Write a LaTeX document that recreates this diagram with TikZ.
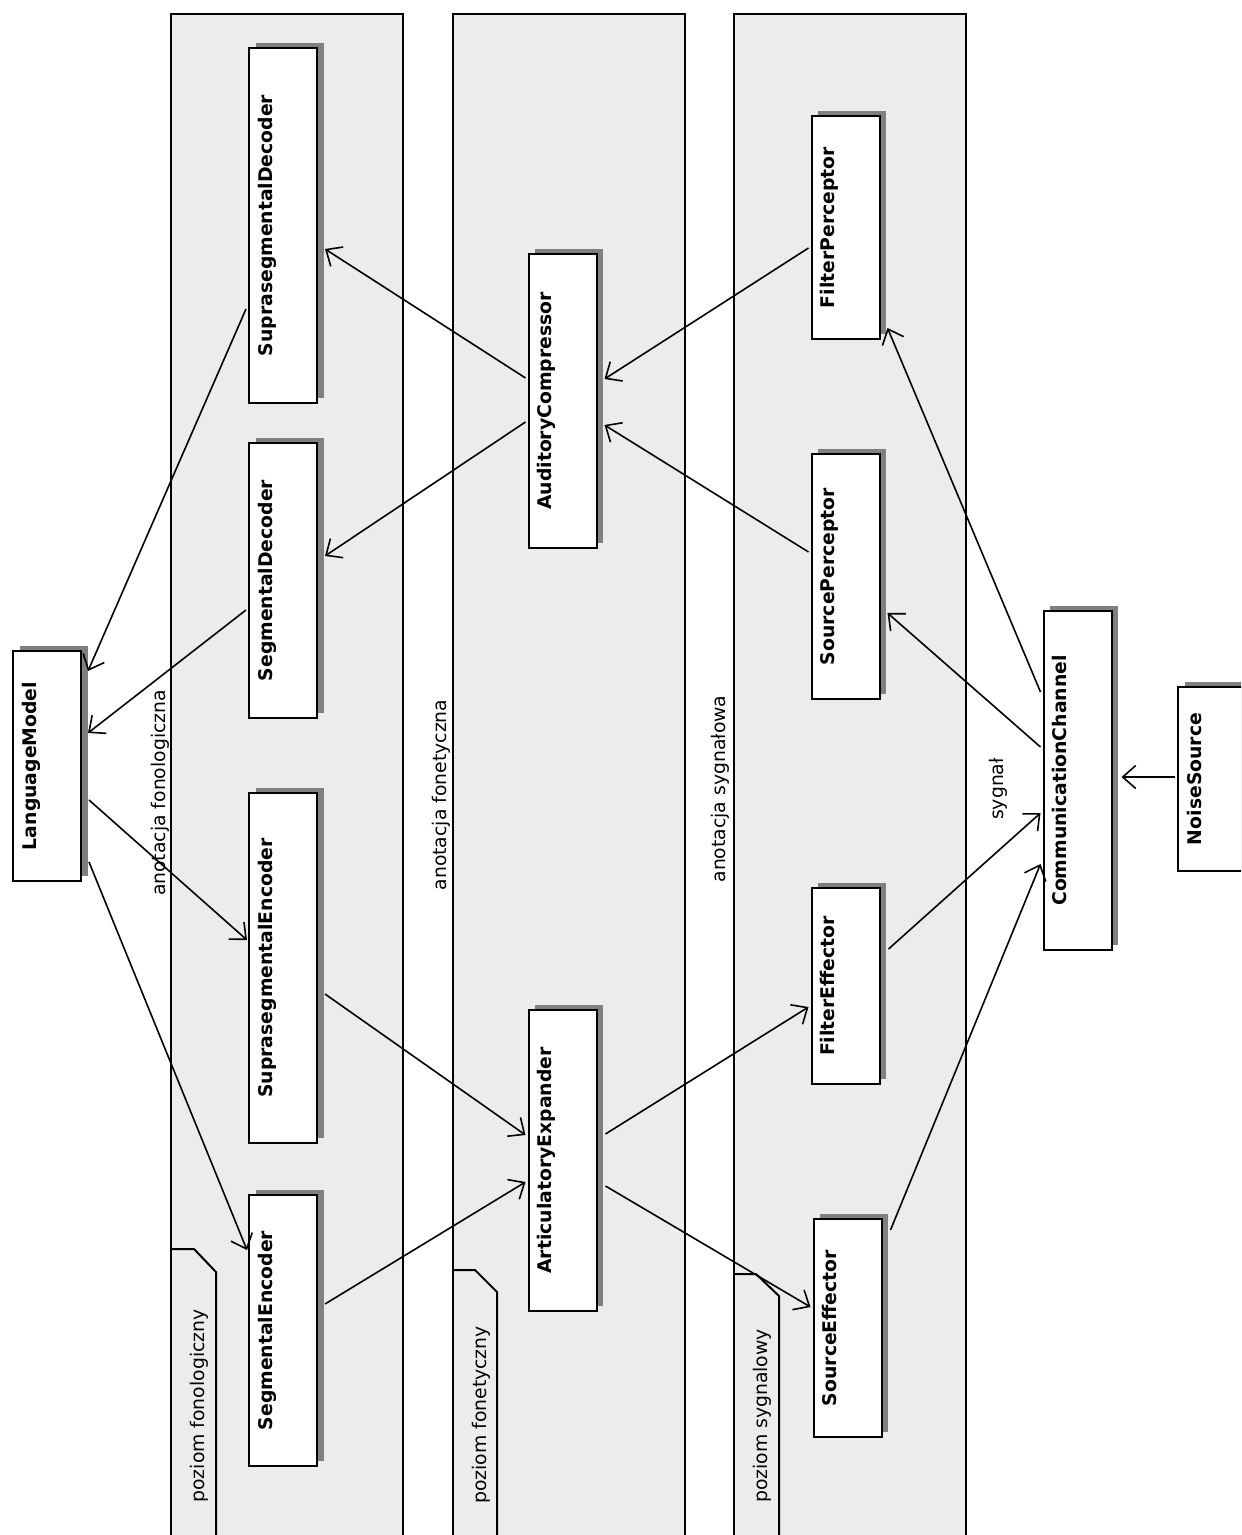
\documentclass[tikz,border=0pt]{standalone}
\usepackage{fontspec}
\setmainfont{DejaVu Sans}
\usetikzlibrary{arrows.meta,calc,shadows}
\definecolor{lanegray}{RGB}{236,236,236}
\definecolor{shadowgray}{RGB}{128,128,128}
\newcommand{\cn}[1]{\noindent\rotatebox{90}{#1}}
\begin{document}
\begin{tikzpicture}[
  x={(0.5pt,0)}, y={(0,-0.5pt)},
  lane/.style={draw=black, line width=1pt, fill=lanegray},
  tabline/.style={draw=black, line width=1pt},
  cls/.style={draw=black, line width=1pt, fill=white, rectangle,
    minimum width=34pt, inner xsep=4.5pt, inner ysep=0pt, text width=25pt,
    font=\bfseries\fontsize{9.4pt}{11pt}\selectfont,
    drop shadow={shadow xshift=3.4pt, shadow yshift=2.7pt, fill=shadowgray, opacity=1}},
  lbl/.style={rotate=90, inner sep=0pt, font=\fontsize{9.4pt}{11pt}\selectfont},
  conn/.style={line width=0.8pt, -{Straight Barb[length=6.5pt,width=11.5pt,line width=0.8pt]}}
]
\useasboundingbox (0,0) rectangle (1241,1535);
\clip (0,0) rectangle (1241,1535);

% swimlanes
\draw[lane] (171,14) rectangle (403,1560);
\draw[lane] (453,14) rectangle (685,1560);
\draw[lane] (734,14) rectangle (966,1560);

% package tabs
\draw[tabline] (171,1249) -- (194,1249) -- (216,1272) -- (216,1560);
\draw[tabline] (453,1270) -- (475,1270) -- (497,1292) -- (497,1560);
\draw[tabline] (734,1274) -- (756,1274) -- (779,1296) -- (779,1560);

\node[lbl] (tab1) at (199,1406) {poziom fonologiczny};
\node[lbl] (tab2) at (481,1415) {poziom fonetyczny};
\node[lbl] (tab3) at (762,1416) {poziom sygnalowy};

% lane captions
\node[lbl] (ann1) at (160,793) {anotacja fonologiczna};
\node[lbl] (ann2) at (441,795) {anotacja fonetyczna};
\node[lbl] (ann3) at (720,789) {anotacja sygnałowa};
\node[lbl] (sig) at (998,789) {sygnał};

% classes
\node[cls, minimum height=115pt] (LM) at (47,766) {\cn{LanguageModel}};
\node[cls, minimum height=177.5pt] (SD) at (283,225.5) {\cn{SuprasegmentalDecoder}};
\node[cls, minimum height=137.5pt] (SegD) at (283,580.5) {\cn{SegmentalDecoder}};
\node[cls, minimum height=175pt] (SE) at (283,968) {\cn{SuprasegmentalEncoder}};
\node[cls, minimum height=135.5pt] (SegE) at (283,1330.5) {\cn{SegmentalEncoder}};
\node[cls, minimum height=147pt] (AC) at (562.5,401) {\cn{AuditoryCompressor}};
\node[cls, minimum height=150.5pt] (AE) at (562.5,1160.5) {\cn{ArticulatoryExpander}};
\node[cls, minimum height=111.5pt] (FP) at (845.5,227.5) {\cn{FilterPerceptor}};
\node[cls, minimum height=122.5pt] (SP) at (845.5,576.5) {\cn{SourcePerceptor}};
\node[cls, minimum height=98pt] (FE) at (845.5,986) {\cn{FilterEffector}};
\node[cls, minimum height=109pt] (SrcE) at (847.5,1328) {\cn{SourceEffector}};
\node[cls, minimum height=169.5pt] (CC) at (1077.5,780.5) {\cn{CommunicationChannel}};
\node[cls, minimum height=92pt] (NS) at (1212,779) {\cn{NoiseSource}};

% dependencies
\draw[conn] ($(SD.west)+(-2,83.5)$) -- ($(LM.east)+(6,-95)$);
\draw[conn] ($(SegD.west)+(-2,29.5)$) -- ($(LM.east)+(6,-33)$);
\draw[conn] ($(LM.east)+(7,34)$) -- ($(SE.west)+(-1,-28)$);
\draw[conn] ($(LM.east)+(7,96)$) -- ($(SegE.west)+(-1,-80.5)$);
\draw[conn] ($(AC.west)+(-2,-23)$) -- ($(SD.east)+(7,23.5)$);
\draw[conn] ($(AC.west)+(-2,21)$) -- ($(SegD.east)+(7,-24.5)$);
\draw[conn] ($(SE.east)+(7,26)$) -- ($(AE.west)+(-2,-25.5)$);
\draw[conn] ($(SegE.east)+(7,-26.5)$) -- ($(AE.west)+(-2,21.5)$);
\draw[conn] ($(FP.west)+(-2,20.5)$) -- ($(AC.east)+(7,-22)$);
\draw[conn] ($(SP.west)+(-2,-24.5)$) -- ($(AC.east)+(7,24)$);
\draw[conn] ($(AE.east)+(8,-26.5)$) -- ($(FE.west)+(-2,21)$);
\draw[conn] ($(AE.east)+(8,25.5)$) -- ($(SrcE.west)+(-2,-21)$);
\draw[conn] ($(CC.west)+(-2,-88.5)$) -- ($(FP.east)+(7,100.5)$);
\draw[conn] ($(CC.west)+(-2,-33.5)$) -- ($(SP.east)+(7,36.5)$);
\draw[conn] ($(FE.east)+(8,-37)$) -- ($(CC.west)+(-2,32.5)$);
\draw[conn] ($(SrcE.east)+(8,-98)$) -- ($(CC.west)+(-2,83.5)$);
\draw[conn] ($(NS.west)+(-2,-2)$) -- ($(CC.east)+(9,-3.5)$);
\end{tikzpicture}
\end{document}
